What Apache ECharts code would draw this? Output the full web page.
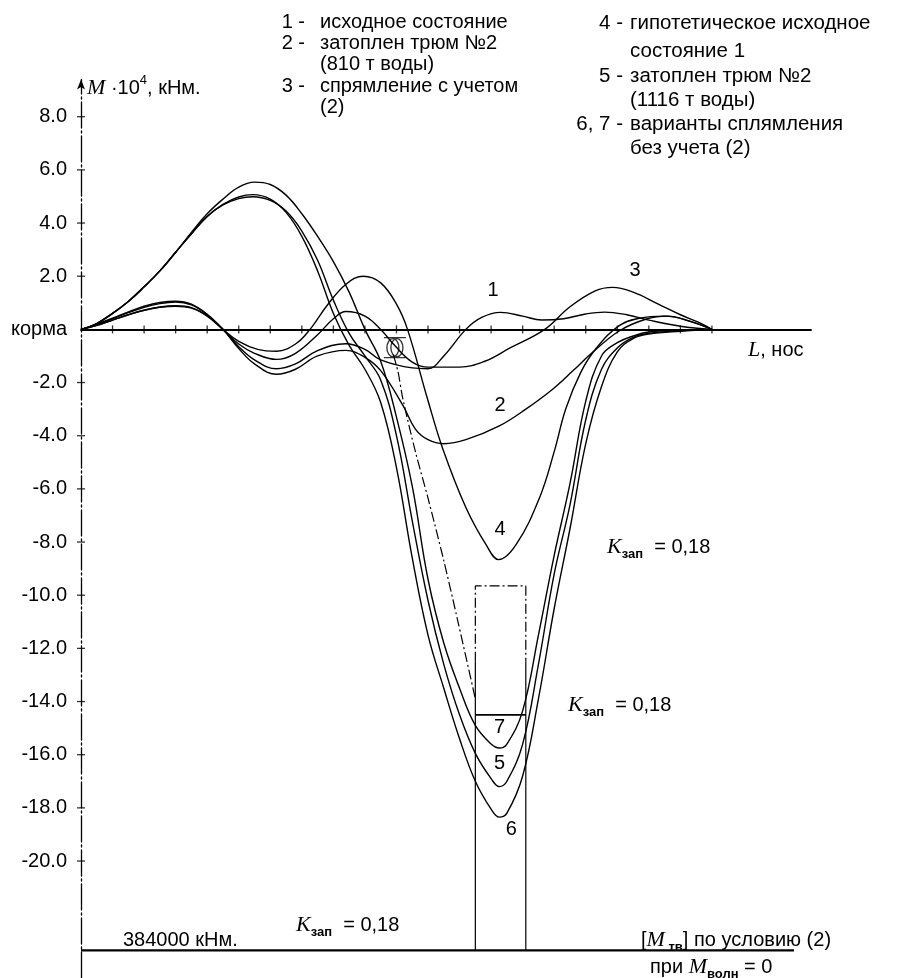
<!DOCTYPE html>
<html>
<head>
<meta charset="utf-8">
<script src="https://cdn.jsdelivr.net/npm/echarts@6/dist/echarts.min.js"></script>
<style>
  html, body { margin: 0; padding: 0; background: #fff; }
  #chart { width: 908px; height: 978px; }
</style>
</head>
<body>
<div id="chart"></div>
<script>
// Still-water bending moment along the hull, M·10^4 kN·m versus station (0 = stern, 20 = bow)

// 1 - initial state
const curve1 = [[0,0],[0.5,0.18],[1,0.4],[1.5,0.63],[2,0.83],[2.5,0.97],[3,1.03],[3.5,0.92],[4,0.55],[4.5,0],
  [5,-0.65],[5.5,-1.15],[6.2,-1.48],[6.8,-1.3],[7.5,-0.8],[8.4,-0.54],[9,-0.75],[9.5,-1.15],[10.5,-1.45],[11,-1.48],
  [11.5,-1.0],[12.2,0],[12.7,0.45],[13.3,0.64],[14,0.5],[14.6,0.35],[15.3,0.4],[16,0.58],[16.6,0.65],[17.3,0.55],
  [18,0.35],[19,0.12],[20,0]];
// 2 - hold No.2 flooded (810 t)
const curve2 = [[0,0],[0.5,0.2],[1,0.42],[1.5,0.66],[2,0.87],[2.5,1.01],[3,1.06],[3.5,0.95],[4,0.57],[4.5,0],
  [5,-0.72],[5.5,-1.3],[6.2,-1.69],[6.8,-1.5],[7.5,-1.0],[8.4,-0.79],[9,-1.05],[9.5,-1.55],[10.2,-2.85],[10.6,-3.75],
  [11,-4.15],[11.5,-4.3],[12.2,-4.15],[13.26,-3.63],[14.1,-3.0],[14.94,-2.26],[15.6,-1.55],[16.2,-0.88],[17.06,-0.06],
  [17.9,0.38],[18.6,0.5],[19.3,0.3],[20,0]];
// 3 - righting taking condition (2) into account
const curve3 = [[0,0],[0.5,0.15],[1,0.35],[1.5,0.55],[2,0.72],[2.5,0.84],[3,0.89],[3.5,0.82],[4,0.52],[4.5,0],
  [5,-0.55],[5.5,-0.9],[6.2,-1.13],[6.8,-0.9],[7.5,-0.2],[8,0.4],[8.4,0.67],[9,0.5],[9.5,0],[9.94,-0.6],[10.5,-1.23],
  [11,-1.42],[12,-1.42],[12.8,-1.2],[13.6,-0.7],[14.7,0],[15.5,0.85],[16.3,1.45],[16.85,1.58],[17.5,1.4],[18.3,0.95],
  [19,0.55],[19.6,0.25],[20,0]];
// 4 - hypothetical initial state 1
const curve4 = [[0,0],[0.5,0.15],[1,0.35],[1.5,0.55],[2,0.72],[2.5,0.83],[3,0.87],[3.5,0.8],[4,0.5],[4.5,0],
  [5,-0.45],[5.6,-0.75],[6.2,-0.82],[6.8,-0.55],[7.26,0],[7.8,0.9],[8.4,1.7],[8.95,2.0],[9.5,1.75],[10,0.95],[10.35,0],
  [10.98,-2.6],[11.47,-4.5],[12.2,-6.7],[12.84,-8.1],[13.24,-8.66],[13.79,-8.1],[14.53,-6.35],[15,-4.6],[15.37,-2.98],
  [15.85,-1.6],[16.32,-0.73],[17.06,0.14],[17.7,0.42],[18.5,0.5],[19.2,0.35],[20,0]];
// 5 - hold No.2 flooded (1116 t)
const curve5 = [[0,0],[0.5,0.22],[1,0.6],[1.5,1.05],[2,1.6],[2.5,2.2],[3,2.9],[3.5,3.6],[4,4.25],[4.5,4.68],[5,4.92],
  [5.45,4.99],[6,4.85],[6.5,4.45],[7,3.7],[7.5,2.6],[8,1.1],[8.5,-0.15],[9,-1.0],[9.5,-1.9],[10,-4.0],[10.5,-7.2],
  [11,-10.2],[11.5,-12.6],[12,-14.5],[12.5,-15.95],[13,-16.9],[13.26,-17.2],[13.5,-17.0],[14,-15.6],[14.5,-12.6],
  [15,-9.2],[15.5,-6.6],[16,-3.4],[16.5,-1.5],[17,-0.7],[17.5,-0.3],[18,-0.15],[19,-0.05],[20,0]];
// 6 - righting variant without condition (2)
const curve6 = [[0,0],[0.5,0.22],[1,0.6],[1.5,1.05],[2,1.6],[2.5,2.2],[3,2.9],[3.5,3.6],[4,4.25],[4.5,4.7],[5,4.98],
  [5.45,5.07],[6,4.9],[6.5,4.4],[7,3.5],[7.5,2.2],[8,0.6],[8.5,-0.6],[9,-1.5],[9.5,-2.75],[10,-5.2],[10.5,-8.6],
  [11,-11.5],[11.5,-13.5],[12,-15.4],[12.5,-17.0],[13,-18.05],[13.26,-18.35],[13.5,-18.2],[14,-16.8],[14.5,-13.9],
  [15,-10.5],[15.5,-7.5],[16,-4.3],[16.5,-2.15],[17,-0.85],[17.5,-0.35],[18,-0.18],[19,-0.07],[20,0]];
// 7 - righting variant without condition (2)
const curve7 = [[0,0],[0.5,0.22],[1,0.6],[1.5,1.05],[2,1.6],[2.5,2.2],[3,2.9],[3.5,3.65],[4,4.35],[4.5,4.9],[5,5.35],
  [5.5,5.54],[6,5.45],[6.5,5.05],[7,4.35],[7.5,3.5],[8,2.55],[8.5,1.4],[9,0],[9.5,-1.2],[10,-3.3],[10.5,-5.9],
  [11,-9.4],[11.5,-11.8],[12,-13.5],[12.5,-14.9],[13,-15.6],[13.26,-15.75],[13.5,-15.6],[14,-14.35],[14.5,-11.5],
  [15,-8.5],[15.5,-5.8],[16,-2.7],[16.5,-1.0],[17,-0.5],[17.5,-0.25],[18,-0.1],[19,-0.03],[20,0]];

// dash-dot line running down from the bulkhead mark
const dashDotCurve = [[9.9,-0.95],[10.05,-1.6],[10.2,-2.6],[10.6,-4.6],[11.0,-6.35],[11.5,-8.7],[11.95,-11.0],[12.5,-13.9]];
const bulkheadMark = [9.95, -0.69];

// number labels next to the curves: [station, moment, text]
const curveLabels = [[13.06,1.45,'1'],[13.28,-2.85,'2'],[17.56,2.2,'3'],[13.28,-7.54,'4'],
  [13.27,-16.34,'5'],[13.64,-18.83,'6'],[13.27,-14.96,'7']];

// hold frame: stations of the sides, top level, end of dash-dot part, allowable level
const holdLeft = 12.5, holdRight = 14.1, holdTop = -9.65, holdDashEnd = -12.5;
const level7 = -14.5;
const allowableLevel = -23.36;
const allowableSpan = [0, 22.6];

const yTicks = [8,6,4,2,0,-2,-4,-6,-8,-10,-12,-14,-16,-18,-20];
const xTicks = [1,2,3,4,5,6,7,8,9,10,11,12,13,14,15,16,17,18,19,20];

const SANS = 'Liberation Sans';
const SERIF = 'Liberation Serif';
const BLACK = '#000';

const RICH = {
  n:   { fontFamily: SANS, fontSize: 20, color: BLACK, lineHeight: 28 },
  i:   { fontFamily: SERIF, fontStyle: 'italic', fontSize: 22, color: BLACK, lineHeight: 28 },
  sub: { fontFamily: SANS, fontWeight: 'bold', fontSize: 13, color: BLACK, lineHeight: 12, verticalAlign: 'bottom' },
  sup: { fontFamily: SANS, fontSize: 13, color: BLACK, lineHeight: 12, verticalAlign: 'top' }
};

function richText(x, y, parts, align) {
  return {
    type: 'text', x: x, y: y, silent: true,
    style: {
      text: parts.map(p => '{' + p[0] + '|' + p[1] + '}').join(''),
      rich: RICH, align: align || 'left', verticalAlign: 'middle'
    }
  };
}
function plain(x, y, text, align, size) {
  return {
    type: 'text', x: x, y: y, silent: true,
    style: { text: text, fontFamily: SANS, fontSize: size || 20, fill: BLACK, align: align || 'left', verticalAlign: 'middle' }
  };
}

const legendLeft = [
  ['1 -', 'исходное состояние', 22], ['2 -', 'затоплен трюм №2', 43], ['', '(810 т воды)', 64],
  ['3 -', 'спрямление с учетом', 86], ['', '(2)', 107]
];
const legendRight = [
  ['4 -', 'гипотетическое исходное', 23], ['', 'состояние 1', 51], ['5 -', 'затоплен трюм №2', 76],
  ['', '(1116 т воды)', 100], ['6, 7 -', 'варианты сплямления', 124], ['', 'без учета (2)', 148]
];

const graphics = [];
legendLeft.forEach(r => { if (r[0]) graphics.push(plain(305, r[2], r[0], 'right')); graphics.push(plain(320, r[2], r[1])); });
legendRight.forEach(r => { if (r[0]) graphics.push(plain(623, r[2], r[0], 'right', 20.5)); graphics.push(plain(630, r[2], r[1], 'left', 20.5)); });

graphics.push(richText(87, 88, [['i','M'],['n',' ·10'],['sup','4'],['n',', кНм.']]));
graphics.push(richText(748, 350, [['i','L'],['n',', нос']]));
graphics.push(richText(607, 547, [['i','K'],['sub','зап'],['n','  = 0,18']]));
graphics.push(richText(568, 705, [['i','K'],['sub','зап'],['n','  = 0,18']]));
graphics.push(richText(296, 925, [['i','K'],['sub','зап'],['n','  = 0,18']]));
graphics.push(plain(123, 940, '384000 кНм.'));
graphics.push(richText(641, 940, [['n','['],['i','M'],['sub',' тв'],['n','] по условию (2)']]));
graphics.push(richText(650, 967, [['n','при '],['i','M'],['sub','волн'],['n',' = 0']]));

function curveSeries(data, extra) {
  return Object.assign({
    type: 'line', data: data, smooth: 0.4, symbol: 'none', silent: true,
    lineStyle: { color: BLACK, width: 1.4 }, z: 3
  }, extra || {});
}

// tick marks crossing the axes
const xTickMarks = xTicks.map(t => [t, 0]);
const yTickMarks = yTicks.filter(t => t !== 0).map(t => [0, t]);

const chart = echarts.init(document.getElementById('chart'), null, { renderer: 'canvas' });
chart.setOption({
  animation: false,
  backgroundColor: '#fff',
  grid: { left: 81, top: 79.5, width: 730, height: 902.5, containLabel: false },
  xAxis: {
    type: 'value', min: 0, max: 23.14,
    axisLine: { show: true, onZero: true, lineStyle: { color: BLACK, width: 1.8 } },
    axisTick: { show: false },
    axisLabel: { show: false },
    splitLine: { show: false }
  },
  yAxis: {
    type: 'value', min: -24.4, max: 9.4,
    axisLine: { show: true, onZero: false, symbol: ['none', 'arrow'], symbolSize: [6, 10],
      lineStyle: { color: BLACK, width: 1.3, type: [26, 3, 2, 3] } },
    axisTick: { show: false },
    axisLabel: {
      show: true, customValues: yTicks, margin: 14, color: BLACK, fontFamily: SANS, fontSize: 20,
      formatter: v => (v === 0 ? 'корма' : v.toFixed(1))
    },
    splitLine: { show: false }
  },
  graphic: graphics,
  series: [
    curveSeries(curve1), curveSeries(curve2), curveSeries(curve3), curveSeries(curve4),
    curveSeries(curve5), curveSeries(curve6), curveSeries(curve7),
    curveSeries(dashDotCurve, { smooth: 0.3, lineStyle: { color: BLACK, width: 1.2, type: [10, 3, 2, 3] } }),
    {
      type: 'line', silent: true, symbol: 'none', z: 2,
      data: [[holdLeft, holdDashEnd], [holdLeft, holdTop], [holdRight, holdTop], [holdRight, holdDashEnd]],
      lineStyle: { color: BLACK, width: 1.2, type: [10, 3, 2, 3] }
    },
    {
      type: 'line', silent: true, symbol: 'none', z: 2,
      data: [[holdLeft, holdDashEnd], [holdLeft, allowableLevel]],
      lineStyle: { color: BLACK, width: 1.2 }
    },
    {
      type: 'line', silent: true, symbol: 'none', z: 2,
      data: [[holdRight, holdDashEnd], [holdRight, allowableLevel]],
      lineStyle: { color: BLACK, width: 1.2 }
    },
    {
      type: 'line', silent: true, symbol: 'none', z: 2,
      data: [[holdLeft, level7], [holdRight, level7]],
      lineStyle: { color: BLACK, width: 1.6 }
    },
    {
      type: 'line', silent: true, symbol: 'none', z: 2,
      data: [[allowableSpan[0], allowableLevel], [allowableSpan[1], allowableLevel]],
      lineStyle: { color: BLACK, width: 2.4 }
    },
    {
      type: 'scatter', silent: true, z: 4, symbol: 'rect', symbolSize: [1.3, 8],
      data: xTickMarks, itemStyle: { color: BLACK }
    },
    {
      type: 'scatter', silent: true, z: 4, symbol: 'rect', symbolSize: [8, 1.3],
      data: yTickMarks, itemStyle: { color: BLACK }
    },
    {
      type: 'scatter', silent: true, z: 5,
      data: [bulkheadMark],
      symbol: 'path://M0 0H22M0 20H22M9 1A6 9 0 1 0 9 19A6 9 0 1 0 9 1M13 1A6 9 0 1 0 13 19A6 9 0 1 0 13 1',
      symbolSize: [22, 20],
      itemStyle: { color: 'rgba(0,0,0,0)', borderColor: BLACK, borderWidth: 1.3 }
    },
    {
      type: 'scatter', silent: true, z: 6, symbolSize: 0,
      data: curveLabels,
      itemStyle: { color: BLACK, opacity: 1 },
      label: {
        show: true, position: 'inside', color: BLACK, opacity: 1,
        textBorderWidth: 0, textBorderColor: 'transparent',
        fontFamily: SANS, fontSize: 20,
        formatter: p => p.value[2]
      }
    }
  ]
});
</script>
</body>
</html>
